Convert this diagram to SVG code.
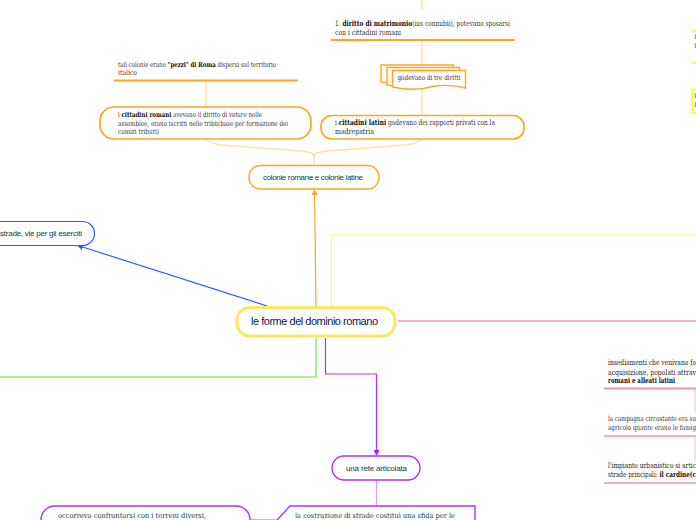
<svg xmlns="http://www.w3.org/2000/svg" width="696" height="520" viewBox="0 0 696 520">
<style>
.s{font-family:"DejaVu Serif","Liberation Serif",serif;font-stretch:condensed;font-size:7px;fill:#333}
.m{font-size:7.6px}
.b{font-weight:bold;fill:#111}
.h{font-family:"Liberation Sans","DejaVu Sans",sans-serif;font-size:8px;fill:#10403a}
.n{fill:#fff;stroke:#ffa51f;stroke-width:1.4}
.t{fill:#fff;stroke:#ffa51f;stroke-width:1.7}
.ol{stroke:#ffa51f;stroke-width:2;fill:none}
.op{stroke:#ffddaa;stroke-width:1.4;fill:none}
.pk{stroke:#f78fb3;stroke-width:2;fill:none}
.pp{stroke:#f9c5d8;stroke-width:1.2;fill:none}
.y{stroke:#ffff33;stroke-width:2;fill:none}
.pu{fill:#fff;stroke:#b030ff;stroke-width:1.4}
</style>
<defs>
<marker id="ao" markerWidth="6" markerHeight="6" refX="5" refY="3" orient="auto" markerUnits="userSpaceOnUse"><path d="M0 0L6 3L0 6Z" fill="#ffa51f"/></marker>
<marker id="ab" markerWidth="6" markerHeight="6" refX="5" refY="3" orient="auto" markerUnits="userSpaceOnUse"><path d="M0 0L6 3L0 6Z" fill="#2a5cff"/></marker>
<marker id="ap" markerWidth="6" markerHeight="6" refX="5" refY="3" orient="auto" markerUnits="userSpaceOnUse"><path d="M0 0L6 3L0 6Z" fill="#a020ff"/></marker>
</defs>
<g id="connectors">
<path class="op" d="M422 0V10M422 40V115M206 81V107"/>
<path class="op" d="M206 139Q212 144 222 145L300 151Q314 152 314 156M422 139Q420 143 405 145L328 151Q314 152 314 156V165"/>
<path d="M316 307L314.500 190" stroke="#ffa51f" stroke-width="1.2" fill="none" marker-end="url(#ao)"/>
<path d="M267 306L78 245.500" stroke="#2a5cff" stroke-width="1.2" fill="none" marker-end="url(#ab)"/>
<path d="M331.500 306V235H696" stroke="#ffff55" stroke-width="1.2" fill="none"/>
<path d="M398 321H696" stroke="#f0609a" stroke-width="1.1" fill="none"/>
<path d="M316 338V377H0" stroke="#55e632" stroke-width="1.1" fill="none"/>
<path d="M325.500 338V374H376.500V455" stroke="#b030ff" stroke-width="1.2" fill="none" marker-end="url(#ap)"/>
<path d="M376.500 480V506M250 519.500H278" stroke="#dfa0ff" stroke-width="1.2" fill="none"/>
<path class="pp" d="M695 388V412M695 436V461"/>
</g>
<g id="node-matrimonio">
<text class="s m" x="335" y="26" textLength="175" lengthAdjust="spacingAndGlyphs">1. <tspan class="b">diritto di matrimonio</tspan>(ius connubii), potevano sposarsi</text>
<text class="s m" x="335" y="35" textLength="66" lengthAdjust="spacingAndGlyphs">con i cittadini romani</text>
<path class="ol" d="M331 40H515"/>
</g>
<g id="node-diritti">
<path class="n" d="M381 65H453.500V79Q440 80 425 83Q405 86 381 82Z"/>
<path class="n" d="M387 67.500H459.500V82Q445 83 430 86Q410 89 387 85Z"/>
<path class="n" d="M392.500 70.500H465.500V88Q450 84 435 86Q415 92 392.500 87Z"/>
<text class="s" x="397.500" y="79.500" textLength="63" lengthAdjust="spacingAndGlyphs">godevano di tre diritti</text>
</g>
<g id="node-pezzi">
<text class="s" x="118" y="67" textLength="158" lengthAdjust="spacingAndGlyphs">tali colonie erano <tspan class="b">"pezzi" di Roma</tspan> dispersi sul territorio</text>
<text class="s" x="118" y="75" textLength="19" lengthAdjust="spacingAndGlyphs">italico</text>
<path class="ol" d="M114 80.500H298"/>
</g>
<g id="node-romani">
<rect class="t" x="100" y="107" width="211" height="32" rx="14"/>
<text class="s" x="118" y="117" textLength="144" lengthAdjust="spacingAndGlyphs">i <tspan class="b">cittadini romani</tspan> avevano il diritto di votare nelle</text>
<text class="s" x="118" y="125.500" textLength="170" lengthAdjust="spacingAndGlyphs">assemblee, erano iscritti nelle tribù(base per formazione dei</text>
<text class="s" x="118" y="134" textLength="41" lengthAdjust="spacingAndGlyphs">comizi tributi)</text>
</g>
<g id="node-latini">
<rect class="t" x="321" y="115.500" width="203" height="23.500" rx="11"/>
<text class="s m" x="335" y="125" textLength="160" lengthAdjust="spacingAndGlyphs">i <tspan class="b">cittadini latini</tspan> godevano dei rapporti privati con la</text>
<text class="s m" x="335" y="134" textLength="39" lengthAdjust="spacingAndGlyphs">madrepatria</text>
</g>
<g id="node-colonie">
<rect class="n" x="249" y="165.500" width="130" height="23.500" rx="11.500"/>
<text class="h" x="263" y="180" textLength="100" lengthAdjust="spacing">colonie romane e colonie latine</text>
</g>
<g id="node-strade">
<rect x="-60" y="221.500" width="154.500" height="24" rx="12" fill="#fff" stroke="#2a5cff" stroke-width="1.2"/>
<text class="h" x="0" y="236" textLength="82" lengthAdjust="spacing">strade, vie per gli eserciti</text>
</g>
<g id="node-centrale">
<rect x="237" y="307.500" width="158" height="28.500" rx="13" fill="#fff" stroke="#ffe566" stroke-width="3"/>
<text x="251" y="325" textLength="127" lengthAdjust="spacing" style="font-family:'Liberation Sans','DejaVu Sans',sans-serif;font-size:11px;fill:#10204a">le forme del dominio romano</text>
</g>
<g id="node-rete">
<rect class="pu" x="332" y="456" width="88" height="24" rx="12"/>
<text class="h" x="346" y="471" textLength="61" lengthAdjust="spacing">una rete articolata</text>
</g>
<g id="node-terreni">
<rect class="pu" x="41" y="506" width="209" height="40" rx="14"/>
<text class="s" x="58" y="518" textLength="148" lengthAdjust="spacingAndGlyphs" style="fill:#10403a">occorreva confrontarsi con i terreni diversi,</text>
</g>
<g id="node-costruzione">
<path class="pu" d="M290 506H475V540H278V519Z"/>
<text class="s" x="295" y="518" textLength="160" lengthAdjust="spacingAndGlyphs" style="fill:#10403a">la costruzione di strade costituì una sfida per le</text>
</g>
<g id="node-insediamenti">
<text class="s m" x="608" y="365" textLength="88" lengthAdjust="spacingAndGlyphs" style="fill:#222">insediamenti che venivano fo</text>
<text class="s m" x="608" y="375" textLength="88" lengthAdjust="spacingAndGlyphs" style="fill:#222">acquisizione, popolati attrav</text>
<text class="s m b" x="608" y="383" textLength="67" lengthAdjust="spacingAndGlyphs">romani e alleati latini</text>
<path class="pk" d="M604 388.500H696"/>
</g>
<g id="node-campagna">
<text class="s" x="608" y="421" textLength="88" lengthAdjust="spacingAndGlyphs">la campagna circostante era su</text>
<text class="s" x="608" y="430" textLength="88" lengthAdjust="spacingAndGlyphs">agricolo quante erano le famig</text>
<path class="pk" d="M604 436H696" style="stroke-width:1.5"/>
</g>
<g id="node-impianto">
<text class="s m" x="608" y="468" textLength="88" lengthAdjust="spacingAndGlyphs" style="fill:#222">l'impianto urbanistico si artic</text>
<text class="s m" x="608" y="477" textLength="88" lengthAdjust="spacingAndGlyphs" style="fill:#222">strade principali: <tspan class="b">il cardine(c</tspan></text>
<path class="pk" d="M604 483H696" style="stroke-width:1.5"/>
</g>
<g id="node-destra-alto">
<path class="y" d="M691 30.500H696M691 62.500H696"/>
<path class="y" d="M696 89.500H692V112.500H696"/>
<text class="s" x="694.500" y="39">i</text>
<text class="s" x="694.500" y="48">i</text>
<text class="s" x="694.500" y="98">i</text>
<text class="s" x="694.500" y="107">i</text>
</g>
</svg>
